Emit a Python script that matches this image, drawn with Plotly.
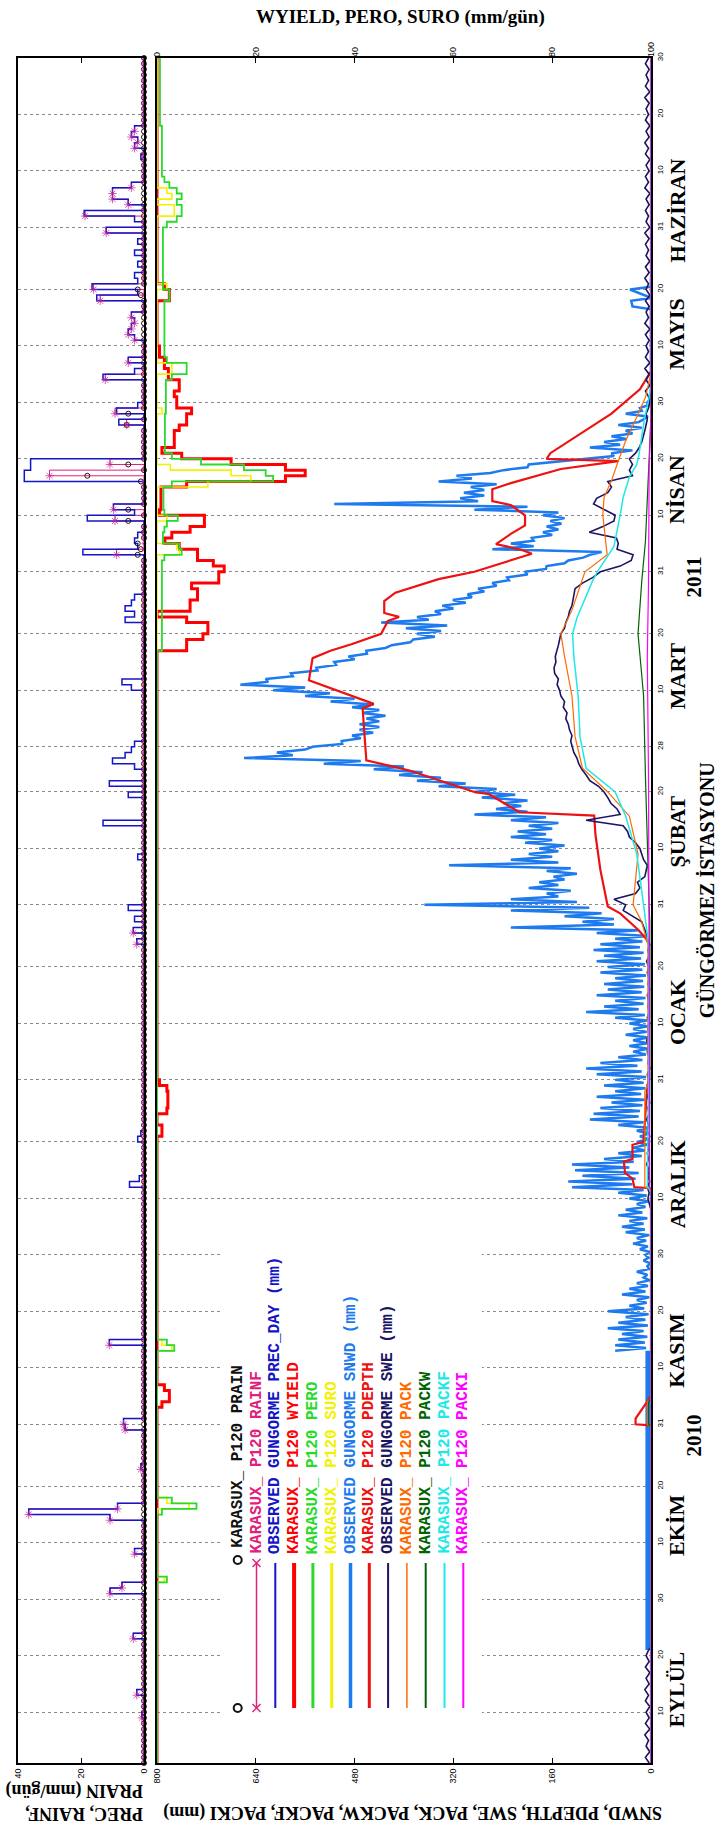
import plotly.graph_objects as go

# ---------------- DATA ----------------
# day index: 1 = 1 Sep 2010 ... 303 = 30 Jun 2011
grid_days = [10, 20, 30, 40, 50, 61, 71, 81, 91, 101, 111, 122, 132, 142, 153,
             163, 173, 181, 191, 201, 212, 222, 232, 242, 252, 262, 273, 283, 293, 303]
grid_labels = ["10", "20", "30", "10", "20", "31", "10", "20", "30", "10", "20", "31",
               "10", "20", "31", "10", "20", "28", "10", "20", "31", "10", "20", "30",
               "10", "20", "31", "10", "20", "30"]
month_names = ["EYLÜL", "EKİM", "KASIM", "ARALIK", "OCAK", "ŞUBAT", "MART", "NİSAN", "MAYIS", "HAZİRAN"]
month_pos = [14, 43, 74, 103.5, 134, 166, 193.5, 226.5, 254, 276]
year_names = ["2010", "2011"]
year_pos = [59, 211]
station_name = "GÜNGÖRMEZ İSTASYONU"
station_pos = 155.6

# observed daily precipitation (mm/gün)
prec_days = [9, 13, 23, 31, 32, 38, 44, 45, 46, 53,
             60, 61, 75, 103, 104, 111, 112, 146, 148, 150,
             152, 161, 167, 172, 174, 177, 178, 179, 180, 181,
             191, 192, 203, 204, 205, 206, 207, 215, 216, 217,
             218, 221, 222, 223, 228, 229, 230, 231, 238, 240,
             241, 246, 247, 249, 253, 254, 255, 256, 257, 260,
             261, 262, 263, 264, 266, 268, 270, 272, 274, 275,
             277, 278, 279, 280, 285, 287, 288, 289, 290]
prec_vals = [0.7, 2.3, 3.4, 10.8, 7, 3, 10.8, 36.6, 8.4, 1,
             6, 6.5, 11, 4.6, 1.5, 2, 1, 2.3, 3.4, 3,
             5, 2, 13, 5, 11, 3, 10, 6, 4, 3,
             4, 7, 6, 3, 6, 4, 3, 19.4, 2, 3,
             2, 18, 3, 9.7, 38, 38, 36, 36, 8, 8.7,
             2, 13, 3, 5, 3, 5, 4, 3, 4, 15,
             2, 16.5, 2, 3, 2, 3, 2, 12, 3, 19,
             5, 10, 10, 4, 1, 3, 2, 4, 3]
rainf_days = [9, 13, 23, 31, 32, 38, 44, 45, 46, 53,
              60, 61, 75, 146, 148, 215, 221, 223, 229, 231,
              238, 240, 246, 249, 253, 254, 255, 256, 257, 260,
              262, 272, 275, 277, 278, 279, 280, 287, 288, 289, 290]
rainf_vals = [0.7, 2.3, 3.4, 10.8, 7, 3, 10.8, 36.6, 8.4, 1,
              6, 6.5, 11, 2.3, 3.4, 8.7, 9.2, 9.7, 30, 10.8,
              5.5, 9.2, 12.3, 5, 3, 5, 4, 3, 4, 13.9,
              16, 12, 18.7, 5, 10, 10, 4, 3, 2, 4, 3]
prain_days = [215, 216, 217, 221, 223, 228, 229, 231, 238, 240, 261, 262]
prain_vals = [2, 1, 2, 5, 5, 1, 18, 5, 5.5, 5, 1, 2]

# model water yield / percolation / surface runoff (mm/gün), step change points
wy_days = [1, 64, 65, 67, 68, 112, 114, 116, 117, 120,
           121, 122, 198, 200, 201, 203, 204, 205, 207, 209,
           210, 212, 213, 214, 216, 217, 218, 219, 220, 222,
           223, 227, 228, 229, 230, 231, 232, 233, 234, 237,
           238, 240, 241, 243, 244, 246, 248, 250, 252, 260,
           262, 263, 303]
wy_vals = [0, 1, 2.5, 1.5, 0, 1, 0, 2, 2.2, 2,
           0.5, 0, 6, 9.3, 10.3, 6, 0, 6.7, 8.2, 7,
           12.5, 13.6, 11.4, 8.2, 4.5, 1.6, 3, 6.7, 9.6, 0.5,
           0.8, 6, 26, 30, 26, 15, 5, 1, 3.5, 4.5,
           6, 7, 4, 3.5, 4.5, 2.3, 1.5, 0.5, 0, 2.5,
           1.5, 0, 0]
pero_days = [1, 33, 34, 45, 46, 47, 48, 74, 75, 76,
             198, 214, 215, 216, 217, 219, 220, 221, 222, 223,
             227, 228, 229, 230, 231, 232, 233, 240, 246, 247,
             249, 250, 260, 262, 273, 274, 275, 277, 278, 279,
             280, 281, 282, 291, 303]
pero_vals = [0, 2, 0, 1, 8, 3, 0, 3.5, 2, 0,
             1.0, 1.5, 5, 4.5, 1.2, 1.5, 2, 4.2, 1.5, 1.3,
             3, 23.5, 22, 17.6, 8.9, 3, 1.6, 1.8, 3, 6,
             2, 1.5, 2.5, 1.2, 2, 4, 5, 4, 5, 4,
             2.5, 1.5, 1, 0.6, 0.6]
suro_days = [1, 33, 34, 46, 47, 48, 74, 75, 76, 215,
             216, 217, 221, 222, 227, 228, 229, 230, 231, 240,
             241, 247, 249, 262, 263, 275, 277, 278, 279, 280, 303]
suro_vals = [0, 1.5, 0, 6.5, 2, 0, 3, 1, 0, 4.5,
             4, 0, 2, 0, 10.3, 19, 15, 2.7, 0, 1,
             0, 3, 0, 2, 0, 3.5, 0, 3, 2, 0, 0]

# observed snow depth (mm)
snwd_band_days = [21, 74]
snwd_band_vals = [5, 5]
snwd_a_start = 74
snwd_a_hi = [58, 58, 53, 47, 70, 53, 41, 70, 35, 23,
             47, 35, 23, 12, 23, 6, 12, 9, 18, 29,
             23, 41, 47, 35, 53, 41, 23, 35, 53, 128,
             134, 111, 123, 128, 76, 53, 29, 23, 18, 23,
             53, 99, 93, 82, 64, 88, 58, 76, 58, 88,
             105, 82, 53, 29, 35, 29, 41, 29, 35, 58,
             105, 76, 58, 88, 70, 76, 58, 82, 70, 88,
             76, 93, 82]
snwd_a_lo = [8, 10, 6, 12, 5, 9, 4, 11, 7, 3,
             9, 5, 2, 6, 3, 1, 4, 2, 5, 8,
             3, 10, 12, 6, 14, 9, 4, 7, 12, 30,
             25, 20, 35, 28, 15, 10, 6, 4, 3, 5,
             12, 20, 18, 14, 10, 16, 9, 12, 8, 15,
             22, 14, 8, 5, 6, 4, 7, 5, 6, 10,
             20, 12, 9, 15, 11, 13, 8, 14, 10, 16,
             12, 18, 14]
snwd_b_start = 147
snwd_b_hi = [58, 88, 227, 111, 140, 227, 367, 227, 169, 198,
             181, 158, 169, 327, 227, 198, 181, 204, 227, 216,
             198, 227, 286, 251, 239, 274, 286, 344, 379, 408,
             449, 530, 659, 606, 548, 501, 484, 472, 472, 461,
             467, 484, 519, 560, 612, 665, 624, 583, 542, 513,
             490, 461, 420, 385, 379, 397, 437, 379, 350, 338,
             321, 297, 280, 257, 233, 204, 169, 134, 99, 257,
             227, 193, 175, 169, 163, 175, 286, 513, 309, 303,
             292, 344, 315, 239, 198, 111, 64, 99, 76, 64,
             41, 53, 12, 41, 18, 6]
snwd_b_lo = [5, 20, 60, 60, 80, 100, 120, 150, 130, 150,
             140, 120, 130, 150, 160, 150, 140, 160, 170, 160,
             150, 170, 200, 210, 200, 220, 250, 300, 340, 370,
             400, 470, 580, 560, 500, 470, 450, 440, 440, 430,
             440, 450, 480, 520, 560, 620, 580, 540, 510, 480,
             460, 430, 390, 350, 340, 330, 360, 340, 320, 300,
             290, 270, 250, 230, 200, 170, 140, 110, 80, 190,
             190, 160, 150, 145, 140, 150, 200, 280, 270, 270,
             250, 290, 260, 200, 150, 60, 30, 50, 40, 30,
             15, 20, 5, 15, 5, 2]
snwd_may_days = [243, 258.5, 259, 260, 260.5, 262, 262.5, 264]
snwd_may_vals = [0, 0, 30, 32, 0, 34, 0, 0]

# model snow depth (mm)
pdepth_days = [1, 60.8, 61, 62, 66, 102.8, 103, 104.5, 105.5, 107.5,
               108, 110.5, 111, 121, 122, 146, 147, 148.5, 150, 151.5,
               152.7, 159.2, 165.5, 168.8, 169.4, 172.6, 173, 176.8, 178.6, 187.8,
               188.6, 192.8, 196.7, 198, 199.2, 201, 203.3, 204, 204.7, 206.8,
               208.3, 210.7, 212, 213.2, 215.2, 215.9, 216.9, 218.7, 220.2, 222,
               223.8, 224.5, 226.6, 227.7, 230.2, 231.6, 232, 233, 236.6, 240,
               244.3, 247.5, 303]
pdepth_vals = [0, 0, 25, 25, 0, 0, 27, 30, 42, 44,
               30, 30, 12, 6, 3, 3, 8, 20, 35, 50,
               70, 82, 90, 92, 213, 262, 286, 391, 461, 467,
               449, 554, 548, 519, 484, 437, 426, 408, 432, 432,
               414, 344, 286, 251, 193, 210, 251, 227, 204, 204,
               227, 257, 257, 227, 146, 53, 169, 163, 111, 64,
               18, 0, 0]

# observed snow water equivalent (mm)
swe_a_start = 1
swe_a = [3, 9, 2, 8, 4, 10, 2, 9, 3, 8, 2, 9, 4, 10, 3, 8, 2, 9, 3, 8, 4]
swe_b_days = [21.5, 99]
swe_b_vals = [0, 0]
swe_c_start = 100
swe_c = [2, 5, 3, 6, 2, 5, 3, 7, 4, 6, 3, 5, 2, 6, 4, 7, 3, 5, 2, 6,
         3, 5, 4, 6, 2, 5, 3, 6, 4, 7, 3, 5, 2, 6, 3, 5, 4, 6, 2, 5,
         3, 6, 4, 7, 3, 5, 2, 6, 8, 12]
swe_d_start = 150
swe_d = [15, 30, 45, 41, 60, 25, 18, 22, 10, 8,
         6, 12, 15, 18, 25, 35, 38, 45, 105, 50,
         55, 65, 70, 76, 85, 99, 105, 112, 117, 120,
         125, 128, 130, 128, 132, 134, 138, 136, 142, 140,
         146, 148, 152, 150, 156, 157, 154, 155, 152, 150,
         148, 146, 140, 138, 134, 132, 128, 126, 124, 123,
         111, 94, 82, 50, 32, 29, 55, 53, 56, 100,
         78, 60, 58, 75, 93, 88, 70, 64, 70, 30,
         35, 30, 35, 25, 19, 15, 12, 10, 8, 6,
         8, 4, 2]
swe_e_start = 243
swe_e = [4, 9, 2, 8, 3, 10, 2, 9, 4, 8, 3, 9, 2, 10, 4, 8, 3, 9, 2, 8,
         4, 10, 3, 9, 2, 8, 4, 9, 3, 10, 2, 8, 4, 9, 3, 8, 2, 10, 4, 9,
         3, 8, 2, 9, 4, 10, 3, 8, 2, 9, 4, 8, 3, 10, 2, 9, 4, 8, 3, 9, 4]

# model snow pack components (mm)
pack_days = [1, 60.5, 61, 65, 65.5, 102.5, 103, 120, 121, 146,
             150, 153, 162, 168.7, 173, 177.2, 182.8, 190, 197, 201,
             205.2, 210.3, 212, 215, 219.5, 222, 225.2, 228.1, 231, 232.4,
             235.2, 239.4, 242.9, 247.1, 303]
pack_vals = [0, 0, 6, 6, 0, 0, 10, 10, 5, 5,
             15, 29, 21, 35, 70, 111, 123, 128, 140, 146,
             128, 112, 107, 71, 75, 78, 76, 64, 55, 50,
             41, 23, 9, 0, 0]
packf_days = [1, 102.5, 103, 121, 146, 150, 153, 162, 168.7, 173,
              177.2, 182.8, 190, 197, 201, 203.8, 210.3, 212, 216.5, 222,
              225.2, 228.8, 231, 232.4, 239.4, 242.9, 245, 303]
packf_vals = [0, 0, 6, 4, 4, 8, 12, 23, 41, 58,
              105, 115, 118, 125, 127, 120, 95, 87, 60, 50,
              45, 35, 23, 20, 10, 3, 0, 0]
packw_days = [1, 60.5, 61, 65, 65.5, 102.5, 103, 121, 150, 153,
              175.8, 190, 201, 210.3, 217.4, 232.4, 239.4, 303]
packw_vals = [0, 0, 4, 4, 0, 0, 3, 2, 2, 3,
              9, 12, 21, 15, 9, 3, 0, 0]
packi_days = [1, 102.5, 103, 150, 175, 197, 210, 230, 240, 303]
packi_vals = [0, 0, 2, 3, 4, 6, 4, 3, 0, 0]

leg_labels = ["KARASUX_ P120 PRAIN", "KARASUX_ P120 RAINF", "OBSERVED GUNGORME PREC_DAY (mm)",
              "KARASUX_ P120 WYIELD", "KARASUX_ P120 PERO", "KARASUX_ P120 SURO",
              "OBSERVED GUNGORME SNWD (mm)", "KARASUX_ P120 PDEPTH", "OBSERVED GUNGORME SWE (mm)",
              "KARASUX_ P120 PACK", "KARASUX_ P120 PACKW", "KARASUX_ P120 PACKF", "KARASUX_ P120 PACKI"]

# ---------------- STYLE / LAYOUT ----------------
W, H = 717, 1832
def px(x):
    return x / W
def py(y):
    return 1 - y / H

PX0, PX1 = 18, 144
MX0, MX1 = 157, 651
YT, YB = 58, 1763

C_PRAIN = "#2a1010"
C_RAINF = "#E0207A"
C_STAR = "#C0209A"
C_PREC = "#1414C8"
C_WY = "#FF0000"
C_PERO = "#2BD92B"
C_SURO = "#F2F200"
C_SNWD = "#1E7BEF"
C_PD = "#EE1111"
C_SWE = "#1B1464"
C_PACK = "#FF6A00"
C_PACKW = "#006400"
C_PACKF = "#20E8E8"
C_PACKI = "#FF00FF"

DAY = list(range(1, 304))
def expand(days, vals):
    arr = [0.0] * len(DAY)
    for d, v in zip(days, vals):
        arr[d - 1] = v
    return arr

prec_daily = expand(prec_days, prec_vals)
rainf_daily = expand(rainf_days, rainf_vals)
prain_daily = expand(prain_days, prain_vals)

# assemble observed snow depth series
sn_x, sn_y = [], []
for i, (h, l) in enumerate(zip(snwd_a_hi, snwd_a_lo)):
    sn_x += [h, l]
    sn_y += [snwd_a_start + i, snwd_a_start + i + 0.5]
for i, (h, l) in enumerate(zip(snwd_b_hi, snwd_b_lo)):
    sn_x += [h, l]
    sn_y += [snwd_b_start + i, snwd_b_start + i + 0.5]
sn_x += snwd_may_vals
sn_y += snwd_may_days

sw_x, sw_y = [], []
sw_x += swe_a
sw_y += [swe_a_start + i for i in range(len(swe_a))]
sw_x += swe_b_vals
sw_y += swe_b_days
for start, vals in [(swe_c_start, swe_c), (swe_d_start, swe_d), (swe_e_start, swe_e)]:
    sw_x += vals
    sw_y += [start + i for i in range(len(vals))]

fig = go.Figure()
NOH = dict(hoverinfo="skip", showlegend=False)

# precipitation panel
fig.add_trace(go.Scatter(x=rainf_daily, y=DAY, xaxis="x", yaxis="y", mode="lines",
                         line=dict(color=C_RAINF, width=1, shape="vh"), **NOH))
fig.add_trace(go.Scatter(x=prec_daily, y=DAY, xaxis="x", yaxis="y", mode="lines",
                         line=dict(color=C_PREC, width=1.5, shape="vh"), **NOH))
fig.add_trace(go.Scatter(x=prain_daily, y=DAY, xaxis="x", yaxis="y", mode="markers",
                         marker=dict(symbol="circle-open", size=5, color=C_PRAIN,
                                     line=dict(width=1, color=C_PRAIN)), cliponaxis=False, **NOH))
fig.add_trace(go.Scatter(x=rainf_daily, y=DAY, xaxis="x", yaxis="y", mode="markers",
                         marker=dict(symbol="asterisk-open", size=[7 if v > 0 else 4 for v in rainf_daily],
                                     color=C_STAR, line=dict(width=1, color=C_STAR)), cliponaxis=False, **NOH))

# main panel: yields (top axis)
fig.add_trace(go.Scatter(x=wy_vals, y=wy_days, xaxis="x3", yaxis="y2", mode="lines",
                         line=dict(color=C_WY, width=3, shape="vh"), **NOH))
fig.add_trace(go.Scatter(x=suro_vals, y=suro_days, xaxis="x3", yaxis="y2", mode="lines",
                         line=dict(color=C_SURO, width=1.6, shape="vh"), **NOH))
fig.add_trace(go.Scatter(x=pero_vals, y=pero_days, xaxis="x3", yaxis="y2", mode="lines",
                         line=dict(color=C_PERO, width=1.8, shape="vh"), **NOH))
# main panel: snow (bottom axis)
fig.add_trace(go.Scatter(x=snwd_band_vals, y=snwd_band_days, xaxis="x2", yaxis="y2", mode="lines",
                         line=dict(color=C_SNWD, width=5), **NOH))
fig.add_trace(go.Scatter(x=sn_x, y=sn_y, xaxis="x2", yaxis="y2", mode="lines",
                         line=dict(color=C_SNWD, width=2.5), **NOH))
fig.add_trace(go.Scatter(x=pdepth_vals, y=pdepth_days, xaxis="x2", yaxis="y2", mode="lines",
                         line=dict(color=C_PD, width=2.2), **NOH))
fig.add_trace(go.Scatter(x=sw_x, y=sw_y, xaxis="x2", yaxis="y2", mode="lines",
                         line=dict(color=C_SWE, width=1.6), **NOH))
fig.add_trace(go.Scatter(x=pack_vals, y=pack_days, xaxis="x2", yaxis="y2", mode="lines",
                         line=dict(color=C_PACK, width=1.2), **NOH))
fig.add_trace(go.Scatter(x=packw_vals, y=packw_days, xaxis="x2", yaxis="y2", mode="lines",
                         line=dict(color=C_PACKW, width=1.2), **NOH))
fig.add_trace(go.Scatter(x=packf_vals, y=packf_days, xaxis="x2", yaxis="y2", mode="lines",
                         line=dict(color=C_PACKF, width=1.5), **NOH))
fig.add_trace(go.Scatter(x=packi_vals, y=packi_days, xaxis="x2", yaxis="y2", mode="lines",
                         line=dict(color=C_PACKI, width=1.2), **NOH))

TICKF = dict(family="Liberation Sans", size=9, color="black")
GRID = dict(showgrid=True, gridcolor="#8a8a8a", griddash="dot", gridwidth=1)
YDOM = [py(YB), py(YT)]

fig.update_layout(
    width=W, height=H, margin=dict(l=0, r=0, t=0, b=0),
    paper_bgcolor="white", plot_bgcolor="white", template="none", showlegend=False,
    xaxis=dict(domain=[px(PX0), px(PX1)], range=[40, 0], anchor="y",
               tickvals=[0, 20, 40], ticks="inside", ticklen=5, tickwidth=1, tickcolor="black",
               tickangle=-90, tickfont=TICKF, showgrid=False, zeroline=False,
               showline=True, linecolor="black", linewidth=2, mirror="ticks", automargin=False),
    yaxis=dict(domain=YDOM, range=[1, 303], anchor="x", tickvals=grid_days,
               showticklabels=False, ticks="", zeroline=False,
               showline=True, linecolor="black", linewidth=2, mirror=True, automargin=False, **GRID),
    xaxis2=dict(domain=[px(MX0), px(MX1)], range=[800, 0], anchor="y2",
                tickvals=[0, 160, 320, 480, 640, 800], ticks="inside", ticklen=5, tickwidth=1,
                tickcolor="black", tickangle=-90, tickfont=TICKF, showgrid=False, zeroline=False,
                showline=True, linecolor="black", linewidth=2, mirror="ticks", automargin=False),
    xaxis3=dict(overlaying="x2", side="top", anchor="y2", range=[0, 100],
                tickvals=[0, 20, 40, 60, 80, 100], ticks="inside", ticklen=5, tickwidth=1,
                tickcolor="black", tickangle=-90, tickfont=TICKF, showgrid=False, zeroline=False,
                showline=False, automargin=False),
    yaxis2=dict(domain=YDOM, range=[1, 303], anchor="x2", side="right",
                tickvals=grid_days, ticktext=grid_labels, tickangle=-90, ticks="",
                tickfont=dict(family="Liberation Sans", size=8, color="black"),
                zeroline=False, showline=True, linecolor="black", linewidth=2, mirror=True,
                automargin=False, **GRID),
)

shapes = []
ann = []
SERIF = "Liberation Serif"

# legend box
shapes.append(dict(type="rect", xref="paper", yref="paper", x0=px(223), x1=px(482),
                   y0=py(1748), y1=py(1238), fillcolor="white", line=dict(width=0), layer="above"))
leg_colors = ["#111111", C_RAINF, C_PREC, C_WY, C_PERO, C_SURO, C_SNWD, C_PD, C_SWE,
              C_PACK, C_PACKW, C_PACKF, C_PACKI]
leg_widths = [0, 1.5, 2, 4, 3, 3, 3.5, 3, 2, 1.5, 2, 2, 2]
for i, (lab, col, lw) in enumerate(zip(leg_labels, leg_colors, leg_widths)):
    ex = 237.7 + i * 18.8
    tb = 1556
    if lw > 0:
        shapes.append(dict(type="line", xref="paper", yref="paper", x0=px(ex), x1=px(ex),
                           y0=py(1563), y1=py(1708), line=dict(color=col, width=lw), layer="above"))
    if i == 0:
        for cy in (1560, 1708):
            shapes.append(dict(type="circle", xref="paper", yref="paper", x0=px(ex - 4), x1=px(ex + 4),
                               y0=py(cy + 4), y1=py(cy - 4), line=dict(color="#111111", width=2), layer="above"))
        tb = 1550
    if i == 1:
        for cy in (1563, 1708):
            for s in (-1, 1):
                shapes.append(dict(type="line", xref="paper", yref="paper", x0=px(ex - 4), x1=px(ex + 4),
                                   y0=py(cy - 4 * s), y1=py(cy + 4 * s),
                                   line=dict(color=C_RAINF, width=1.5), layer="above"))
    ann.append(dict(x=px(ex), y=py(tb), xref="paper", yref="paper", text="<b>" + lab + "</b>",
                    textangle=-90, showarrow=False, xanchor="center", yanchor="bottom",
                    font=dict(family="Liberation Mono", size=16, color=col)))

# month, year and station labels
for name, d in zip(month_names, month_pos):
    ann.append(dict(x=px(677), y=d, xref="paper", yref="y2", text="<b>" + name + "</b>", textangle=-90,
                    showarrow=False, xanchor="center", yanchor="middle",
                    font=dict(family=SERIF, size=22, color="black")))
for name, d in zip(year_names, year_pos):
    ann.append(dict(x=px(694), y=d, xref="paper", yref="y2", text="<b>" + name + "</b>", textangle=-90,
                    showarrow=False, xanchor="center", yanchor="middle",
                    font=dict(family=SERIF, size=21, color="black")))
ann.append(dict(x=px(706), y=station_pos, xref="paper", yref="y2", text="<b>" + station_name + "</b>",
                textangle=-90, showarrow=False, xanchor="center", yanchor="middle",
                font=dict(family=SERIF, size=20, color="black")))

# axis titles
ann.append(dict(x=px(400), y=py(17), xref="paper", yref="paper", text="<b>WYIELD, PERO, SURO (mm/gün)</b>",
                showarrow=False, xanchor="center", yanchor="middle",
                font=dict(family=SERIF, size=19, color="black")))
ann.append(dict(x=px(413), y=py(1813), xref="paper", yref="paper",
                text="<b>SNWD, PDEPTH, SWE, PACK, PACKW, PACKF, PACKI (mm)</b>", textangle=180,
                showarrow=False, xanchor="center", yanchor="middle",
                font=dict(family=SERIF, size=18, color="black")))
ann.append(dict(x=px(145), y=py(1802), xref="paper", yref="paper",
                text="<b>PREC, RAINF,<br>PRAIN (mm/gün)</b>", textangle=180, align="left",
                showarrow=False, xanchor="right", yanchor="middle",
                font=dict(family=SERIF, size=18, color="black")))

fig.update_layout(shapes=shapes, annotations=ann)
fig.write_html("out.html")
